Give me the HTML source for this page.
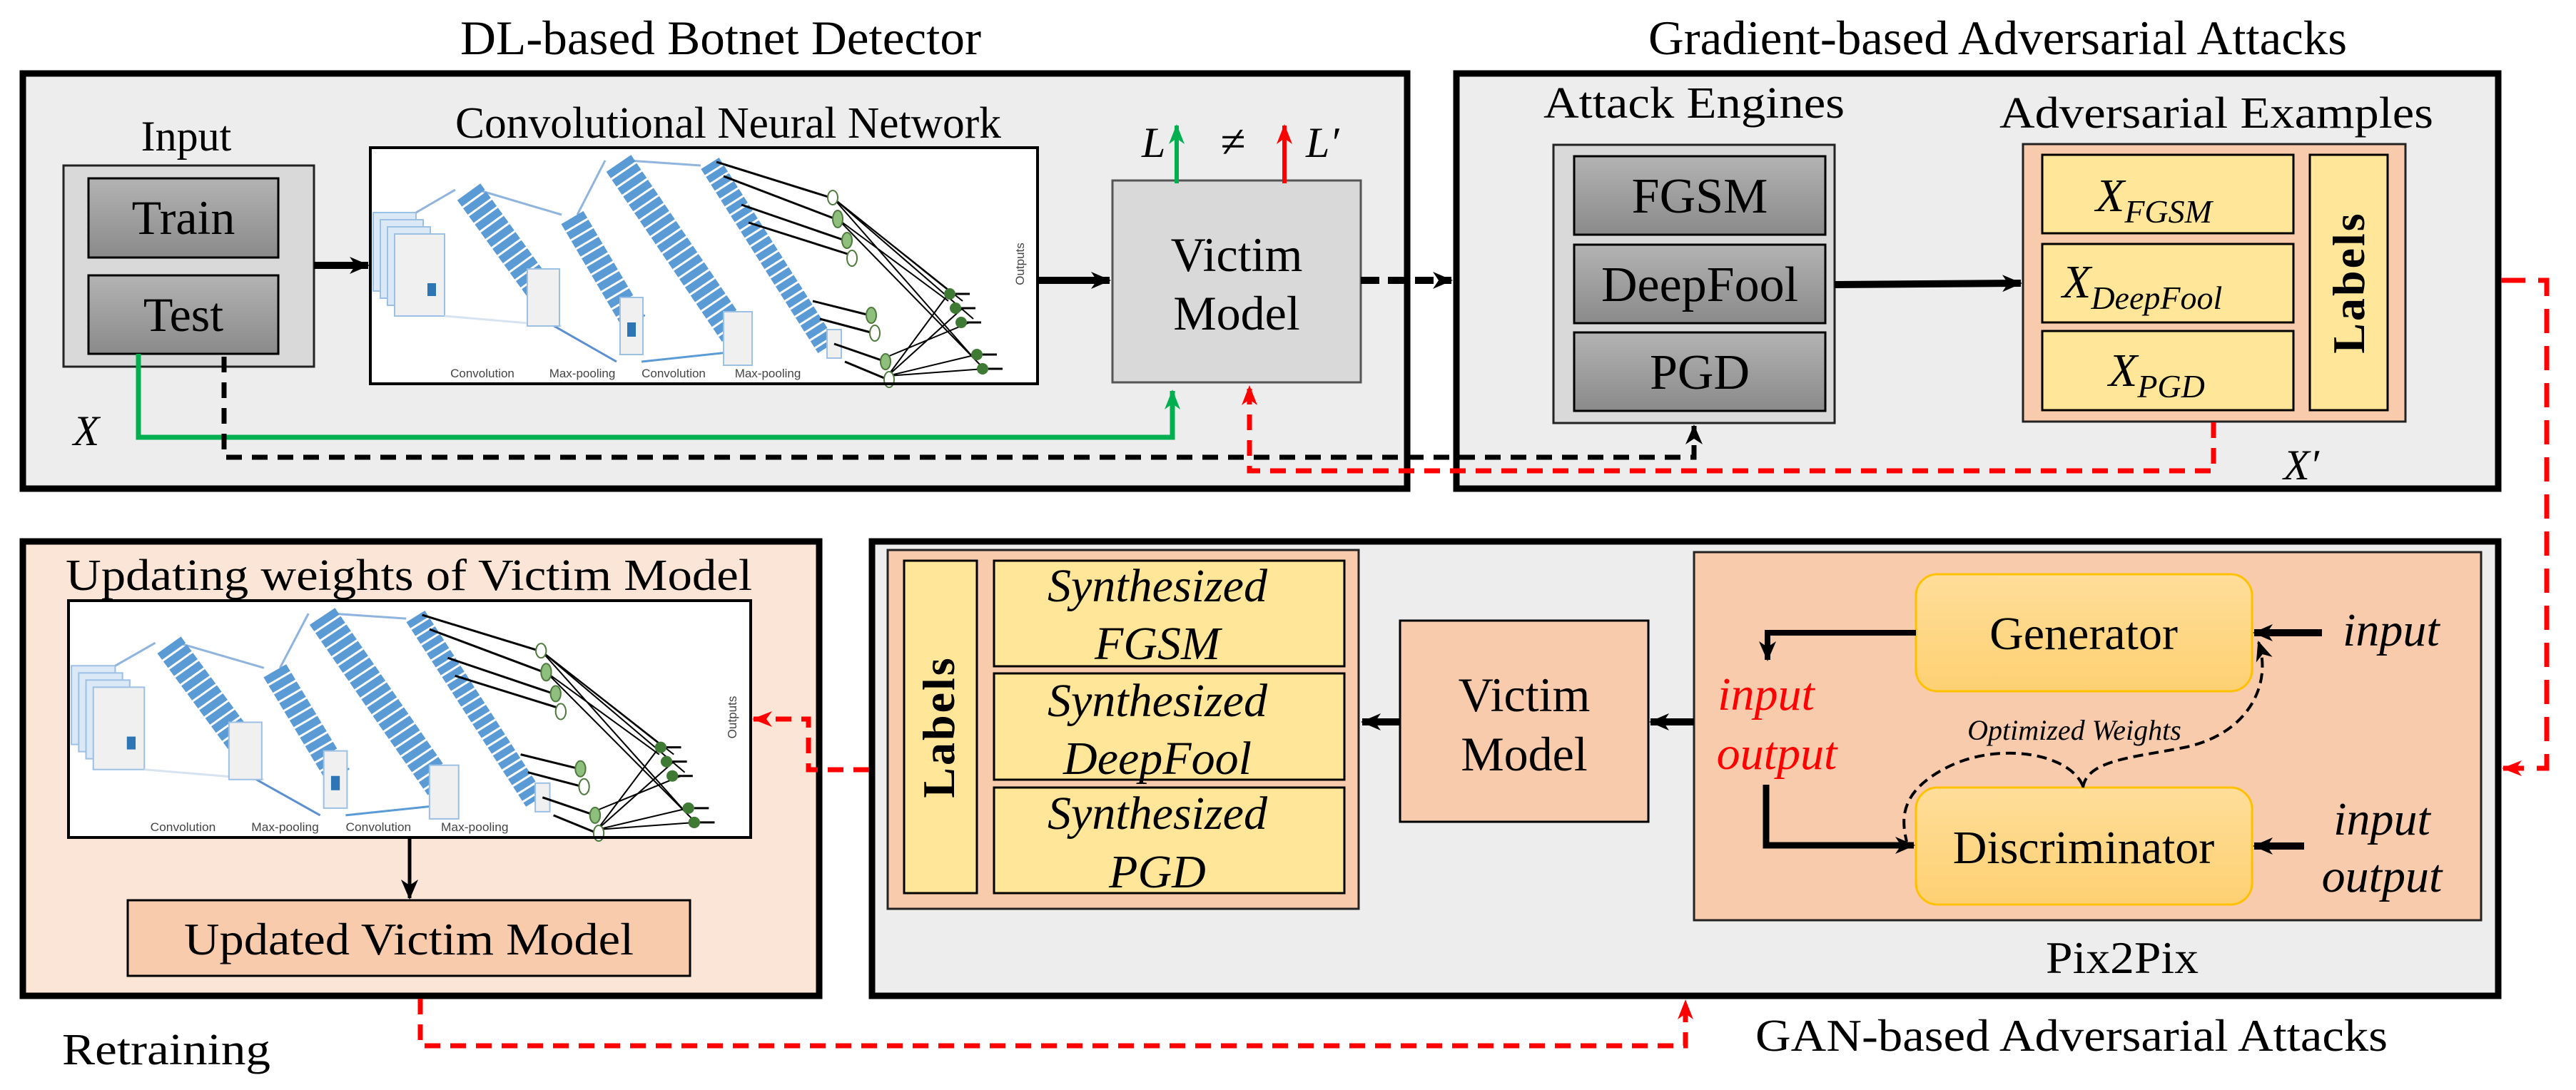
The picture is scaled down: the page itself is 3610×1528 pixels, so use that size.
<!DOCTYPE html>
<html><head><meta charset="utf-8"><style>html,body{margin:0;padding:0;background:#fff}svg{display:block}svg text{font-family:"Liberation Serif","DejaVu Serif",serif}</style></head>
<body>
<svg width="3610" height="1528" viewBox="0 0 3610 1528" xmlns="http://www.w3.org/2000/svg" style="font-family:'Liberation Serif',serif">
<defs>
<linearGradient id="gg" x1="0" y1="0" x2="0" y2="1"><stop offset="0" stop-color="#b3b3b3"/><stop offset="1" stop-color="#8a8a8a"/></linearGradient>
<linearGradient id="yg" x1="0" y1="0" x2="0" y2="1"><stop offset="0" stop-color="#ffde9a"/><stop offset="1" stop-color="#fdd072"/></linearGradient>
<marker id="ab" markerWidth="30" markerHeight="30" refX="26" refY="15" orient="auto" markerUnits="userSpaceOnUse"><path d="M0,3 L28,15 L0,27 L8,15 Z" fill="#000"/></marker>
<marker id="ar" markerWidth="30" markerHeight="30" refX="26" refY="15" orient="auto" markerUnits="userSpaceOnUse"><path d="M0,4 L28,15 L0,26 L8,15 Z" fill="#f00"/></marker>
<marker id="agr" markerWidth="30" markerHeight="30" refX="26" refY="15" orient="auto" markerUnits="userSpaceOnUse"><path d="M0,4 L28,15 L0,26 L8,15 Z" fill="#00b050"/></marker>
<g id="cnn">
  <rect x="0" y="0" width="935" height="331" fill="#fff"/>
  <g fill="#dbe8f6" stroke="#9dc0e5" stroke-width="2">
    <rect x="4" y="91" width="60" height="110"/><rect x="14" y="101" width="60" height="110"/><rect x="24" y="111" width="60" height="110"/><rect x="34" y="121" width="70" height="115" fill="#f0f0f0"/>
  </g>
  <rect x="80" y="190" width="12" height="18" fill="#2e75b6"/>
  <g stroke="#8fb4dd" stroke-width="3" fill="none">
    <path d="M64,91 L119,59"/><path d="M150,59 L268,94"/><path d="M290,94 L329,18"/><path d="M360,18 L463,25"/>
    <path d="M104,236 L268,250" stroke="#d6e4f2"/><path d="M240,240 L345,300" stroke="#5b8fd0"/><path d="M380,300 L520,285" stroke="#5b9bd5"/>
  </g>
  <line x1="138" y1="62" x2="238" y2="200" stroke="#5b9bd5" stroke-width="40" stroke-dasharray="11 3"/>
  <rect x="220" y="170" width="45" height="80" fill="#f0f0f0" stroke="#9dc0e5" stroke-width="2"/>
  <line x1="283" y1="98" x2="370" y2="245" stroke="#5b9bd5" stroke-width="36" stroke-dasharray="11 3"/>
  <rect x="350" y="210" width="32" height="80" fill="#f0f0f0" stroke="#9dc0e5" stroke-width="2"/>
  <rect x="360" y="245" width="12" height="20" fill="#2e75b6"/>
  <line x1="348" y1="22" x2="510" y2="260" stroke="#5b9bd5" stroke-width="42" stroke-dasharray="11 3"/>
  <rect x="495" y="230" width="40" height="75" fill="#f0f0f0" stroke="#9dc0e5" stroke-width="2"/>
  <line x1="476" y1="22" x2="640" y2="280" stroke="#5b9bd5" stroke-width="30" stroke-dasharray="10 3"/>
  <rect x="640" y="255" width="20" height="40" fill="#f0f0f0" stroke="#9dc0e5" stroke-width="2"/>
  <g stroke="#000" stroke-width="3" fill="none">
    <path d="M485,20 L645,70"/><path d="M495,40 L652,100"/><path d="M520,80 L665,130"/><path d="M530,105 L672,150"/>
    <path d="M620,215 L700,235"/><path d="M630,240 L705,260"/><path d="M650,275 L722,300"/><path d="M665,300 L725,325"/>
  </g>
  <g stroke="#000" stroke-width="2" fill="none">
    <path d="M648,70 L810,200 M648,70 L830,215 M648,70 L845,240 M648,70 L850,300 M655,100 L860,310 M655,100 L810,215"/>
    <path d="M725,320 L810,205 M725,320 L830,225 M725,320 L860,310 M725,320 L850,290 M720,295 L840,245"/>
  </g>
  <g fill="#8fbf7c" stroke="#4e7a3e" stroke-width="2">
    <ellipse cx="648" cy="70" rx="7" ry="10" fill="#fff"/><ellipse cx="655" cy="100" rx="7" ry="12"/><ellipse cx="668" cy="130" rx="7" ry="11"/><ellipse cx="675" cy="155" rx="7" ry="11" fill="#fff"/>
    <ellipse cx="702" cy="235" rx="7" ry="11"/><ellipse cx="707" cy="260" rx="7" ry="11" fill="#fff"/><ellipse cx="722" cy="300" rx="7" ry="11"/><ellipse cx="727" cy="325" rx="7" ry="11" fill="#fff"/>
  </g>
  <g fill="#3f7a34">
    <circle cx="812" cy="205" r="8"/><circle cx="820" cy="225" r="8"/><circle cx="828" cy="245" r="8"/><circle cx="850" cy="290" r="8"/><circle cx="858" cy="310" r="8"/>
  </g>
  <g stroke="#000" stroke-width="3"><path d="M820,205 L840,205 M828,225 L848,225 M836,245 L856,245 M858,290 L878,290 M866,310 L886,310"/></g>
  <g style="font-family:'Liberation Sans',sans-serif" font-size="17" fill="#444">
    <text x="157" y="322" text-anchor="middle" style="font-family:'Liberation Sans',sans-serif">Convolution</text><text x="297" y="322" text-anchor="middle" style="font-family:'Liberation Sans',sans-serif">Max-pooling</text>
    <text x="425" y="322" text-anchor="middle" style="font-family:'Liberation Sans',sans-serif">Convolution</text><text x="557" y="322" text-anchor="middle" style="font-family:'Liberation Sans',sans-serif">Max-pooling</text>
    <text transform="translate(916,163) rotate(-90)" text-anchor="middle" style="font-family:'Liberation Sans',sans-serif">Outputs</text>
  </g>
</g>
</defs>

<!-- Titles -->
<text x="645" y="76" font-size="68" textLength="730" lengthAdjust="spacingAndGlyphs">DL-based Botnet Detector</text>
<text x="2310" y="76" font-size="68" textLength="979" lengthAdjust="spacingAndGlyphs">Gradient-based Adversarial Attacks</text>

<!-- Top-left big box -->
<rect x="32" y="103" width="1940" height="582" fill="#ededed" stroke="#000" stroke-width="9"/>
<text x="261" y="211" font-size="60" text-anchor="middle">Input</text>
<rect x="89" y="232" width="351" height="282" fill="#d9d9d9" stroke="#222" stroke-width="3"/>
<rect x="124" y="250" width="266" height="111" fill="url(#gg)" stroke="#000" stroke-width="3"/>
<rect x="124" y="386" width="266" height="110" fill="url(#gg)" stroke="#000" stroke-width="3"/>
<text x="257" y="328" font-size="68" text-anchor="middle">Train</text>
<text x="257" y="464" font-size="68" text-anchor="middle">Test</text>
<text x="638" y="193" font-size="62" textLength="765" lengthAdjust="spacingAndGlyphs">Convolutional Neural Network</text>
<use href="#cnn" transform="translate(519,207)"/>
<rect x="519" y="207" width="935" height="331" fill="none" stroke="#000" stroke-width="4"/>
<rect x="1559" y="253" width="348" height="283" fill="#d9d9d9" stroke="#555" stroke-width="3"/>
<text x="1733" y="380" font-size="68" text-anchor="middle">Victim</text>
<text x="1733" y="462" font-size="68" text-anchor="middle">Model</text>
<text x="1600" y="220" font-size="60" font-style="italic">L</text>
<text x="1728" y="220" font-size="64" text-anchor="middle">≠</text>
<text x="1830" y="220" font-size="60" font-style="italic">L′</text>

<!-- Top-right box -->
<rect x="2041" y="103" width="1460" height="582" fill="#ededed" stroke="#000" stroke-width="9"/>
<text x="2163" y="165" font-size="62" textLength="422" lengthAdjust="spacingAndGlyphs">Attack Engines</text>
<rect x="2177" y="203" width="394" height="390" fill="#d9d9d9" stroke="#222" stroke-width="3"/>
<rect x="2206" y="219" width="352" height="110" fill="url(#gg)" stroke="#000" stroke-width="3"/>
<rect x="2206" y="343" width="352" height="110" fill="url(#gg)" stroke="#000" stroke-width="3"/>
<rect x="2206" y="466" width="352" height="110" fill="url(#gg)" stroke="#000" stroke-width="3"/>
<text x="2382" y="298" font-size="70" text-anchor="middle">FGSM</text>
<text x="2382" y="422" font-size="70" text-anchor="middle">DeepFool</text>
<text x="2382" y="545" font-size="70" text-anchor="middle">PGD</text>
<text x="2802" y="179" font-size="62" textLength="608" lengthAdjust="spacingAndGlyphs">Adversarial Examples</text>
<rect x="2835" y="202" width="536" height="389" fill="#f8cbad" stroke="#222" stroke-width="3"/>
<rect x="2862" y="217" width="352" height="110" fill="#ffe699" stroke="#000" stroke-width="3"/>
<rect x="2862" y="342" width="352" height="110" fill="#ffe699" stroke="#000" stroke-width="3"/>
<rect x="2862" y="464" width="352" height="111" fill="#ffe699" stroke="#000" stroke-width="3"/>
<rect x="3237" y="217" width="109" height="358" fill="#ffe699" stroke="#000" stroke-width="3"/>
<text x="2937" y="296" font-size="66" font-style="italic">X<tspan font-size="46" dy="16">FGSM</tspan></text>
<text x="2890" y="417" font-size="66" font-style="italic">X<tspan font-size="46" dy="16">DeepFool</tspan></text>
<text x="2955" y="541" font-size="66" font-style="italic">X<tspan font-size="46" dy="16">PGD</tspan></text>
<text transform="translate(3313,396) rotate(-90)" font-size="64" font-weight="bold" text-anchor="middle" letter-spacing="3">Labels</text>
<text x="3225" y="672" font-size="60" font-style="italic" text-anchor="middle">X′</text>

<!-- Bottom-left box -->
<rect x="32" y="759" width="1116" height="637" fill="#fbe5d6" stroke="#000" stroke-width="9"/>
<text x="92" y="827" font-size="62" textLength="962" lengthAdjust="spacingAndGlyphs">Updating weights of Victim Model</text>
<use href="#cnn" transform="translate(96,842) scale(1.022,1.003)"/>
<rect x="96" y="842" width="956" height="332" fill="none" stroke="#000" stroke-width="4"/>
<rect x="179" y="1262" width="788" height="106" fill="#f8cbad" stroke="#000" stroke-width="3"/>
<text x="573" y="1338" font-size="64" text-anchor="middle" textLength="630" lengthAdjust="spacingAndGlyphs">Updated Victim Model</text>
<text x="87" y="1492" font-size="62" textLength="292" lengthAdjust="spacingAndGlyphs">Retraining</text>

<!-- Bottom-right box -->
<rect x="1222" y="759" width="2279" height="637" fill="#ededed" stroke="#000" stroke-width="9"/>
<rect x="1244" y="771" width="660" height="503" fill="#f8cbad" stroke="#222" stroke-width="3"/>
<rect x="1267" y="786" width="102" height="466" fill="#ffe699" stroke="#000" stroke-width="3"/>
<text transform="translate(1337,1019) rotate(-90)" font-size="64" font-weight="bold" text-anchor="middle" letter-spacing="3">Labels</text>
<rect x="1393" y="786" width="491" height="148" fill="#ffe699" stroke="#000" stroke-width="3"/>
<rect x="1393" y="944" width="491" height="149" fill="#ffe699" stroke="#000" stroke-width="3"/>
<rect x="1393" y="1104" width="491" height="148" fill="#ffe699" stroke="#000" stroke-width="3"/>
<g font-size="66" font-style="italic" text-anchor="middle">
<text x="1622" y="843">Synthesized</text><text x="1622" y="924">FGSM</text>
<text x="1622" y="1004">Synthesized</text><text x="1622" y="1085">DeepFool</text>
<text x="1622" y="1162">Synthesized</text><text x="1622" y="1244">PGD</text>
</g>
<rect x="1962" y="870" width="348" height="282" fill="#f8cbad" stroke="#000" stroke-width="3"/>
<text x="2136" y="997" font-size="68" text-anchor="middle">Victim</text>
<text x="2136" y="1080" font-size="68" text-anchor="middle">Model</text>
<rect x="2374" y="774" width="1103" height="516" fill="#f8cbad" stroke="#222" stroke-width="3"/>
<rect x="2685" y="805" width="471" height="164" rx="30" fill="url(#yg)" stroke="#ffc000" stroke-width="3"/>
<rect x="2685" y="1104" width="471" height="164" rx="30" fill="url(#yg)" stroke="#ffc000" stroke-width="3"/>
<text x="2920" y="910" font-size="66" text-anchor="middle">Generator</text>
<text x="2920" y="1210" font-size="66" text-anchor="middle">Discriminator</text>
<text x="3283" y="905" font-size="66" font-style="italic">input</text>
<text x="3338" y="1170" font-size="66" font-style="italic" text-anchor="middle">input</text>
<text x="3338" y="1250" font-size="66" font-style="italic" text-anchor="middle">output</text>
<text x="2475" y="995" font-size="66" font-style="italic" fill="#f00" text-anchor="middle">input</text>
<text x="2490" y="1078" font-size="66" font-style="italic" fill="#f00" text-anchor="middle">output</text>
<text x="2907" y="1037" font-size="40" font-style="italic" text-anchor="middle">Optimized Weights</text>
<text x="2867" y="1364" font-size="64" textLength="214" lengthAdjust="spacingAndGlyphs">Pix2Pix</text>
<text x="2460" y="1473" font-size="64" textLength="886" lengthAdjust="spacingAndGlyphs">GAN-based Adversarial Attacks</text>

<!-- Connectors (drawn on top) -->
<line x1="440" y1="372" x2="516" y2="372" stroke="#000" stroke-width="10" marker-end="url(#ab)"/>
<line x1="1456" y1="393" x2="1555" y2="393" stroke="#000" stroke-width="10" marker-end="url(#ab)"/>
<line x1="1649" y1="257" x2="1649" y2="176" stroke="#00b050" stroke-width="6" marker-end="url(#agr)"/>
<line x1="1800" y1="257" x2="1800" y2="176" stroke="#f00" stroke-width="6" marker-end="url(#ar)"/>
<path d="M194,496 L194,613 L1643,613 L1643,548" fill="none" stroke="#00b050" stroke-width="7" marker-end="url(#agr)"/>
<text x="121" y="624" font-size="60" font-style="italic" text-anchor="middle">X</text>
<path d="M314,500 L314,641 L2374,641 L2374,597" fill="none" stroke="#000" stroke-width="7" stroke-dasharray="22 14" marker-end="url(#ab)"/>
<path d="M3102,592 L3102,660 L1751,660 L1751,542" fill="none" stroke="#f00" stroke-width="7" stroke-dasharray="22 14" marker-end="url(#ar)"/>
<line x1="1907" y1="393" x2="2034" y2="393" stroke="#000" stroke-width="10" stroke-dasharray="26 12" marker-end="url(#ab)"/>
<line x1="2571" y1="399" x2="2832" y2="397" stroke="#000" stroke-width="10" marker-end="url(#ab)"/>
<path d="M3505,393 L3569,393 L3569,1077 L3508,1077" fill="none" stroke="#f00" stroke-width="7" stroke-dasharray="34 18" marker-end="url(#ar)"/>
<line x1="574" y1="1176" x2="574" y2="1259" stroke="#000" stroke-width="5" marker-end="url(#ab)"/>
<path d="M589,1400 L589,1466 L2362,1466 L2362,1403" fill="none" stroke="#f00" stroke-width="7" stroke-dasharray="22 14" marker-end="url(#ar)"/>
<path d="M1218,1079 L1133,1079 L1133,1008 L1056,1008" fill="none" stroke="#f00" stroke-width="7" stroke-dasharray="22 14" marker-end="url(#ar)"/>
<line x1="1962" y1="1012" x2="1909" y2="1012" stroke="#000" stroke-width="10" marker-end="url(#ab)"/>
<line x1="2374" y1="1012" x2="2313" y2="1012" stroke="#000" stroke-width="10" marker-end="url(#ab)"/>
<line x1="3254" y1="887" x2="3159" y2="887" stroke="#000" stroke-width="10" marker-end="url(#ab)"/>
<line x1="3229" y1="1186" x2="3159" y2="1186" stroke="#000" stroke-width="10" marker-end="url(#ab)"/>
<path d="M2685,887 L2477,887 L2477,925" fill="none" stroke="#000" stroke-width="8" marker-end="url(#ab)"/>
<path d="M2475,1100 L2475,1185 L2682,1185" fill="none" stroke="#000" stroke-width="9" marker-end="url(#ab)"/>
<path d="M2919,1104 C2925,1065 2990,1062 3060,1048 C3150,1030 3185,960 3165,900" fill="none" stroke="#000" stroke-width="4" stroke-dasharray="14 8" marker-end="url(#ab)"/>
<path d="M2919,1102 C2900,1055 2800,1040 2730,1075 C2660,1110 2665,1150 2672,1180" fill="none" stroke="#000" stroke-width="4" stroke-dasharray="14 8"/>
</svg>
</body></html>
